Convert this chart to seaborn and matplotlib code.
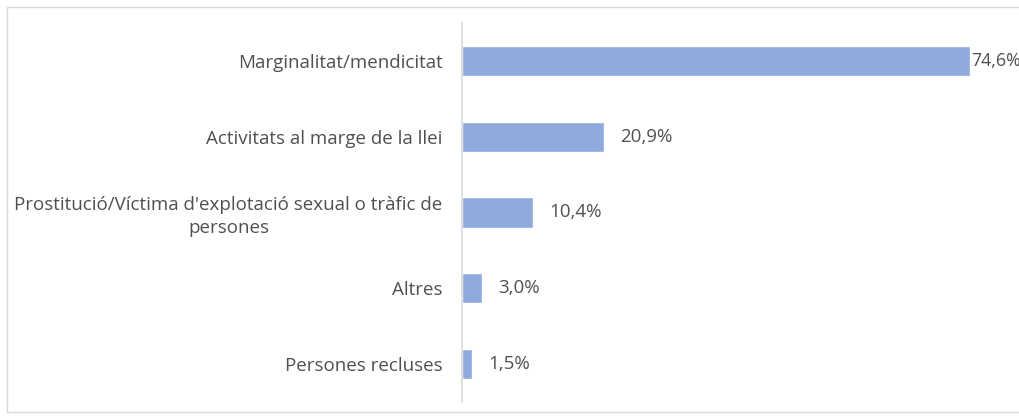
import numpy as np
import pandas as pd
import matplotlib
matplotlib.use("Agg")
import matplotlib.pyplot as plt
import seaborn as sns
from matplotlib.patches import Rectangle

# ─── DATA ───────────────────────────────────────────────
categories = [
    "Marginalitat/mendicitat",
    "Activitats al marge de la llei",
    "Prostitució/Víctima d'explotació sexual o tràfic de\npersones",
    "Altres",
    "Persones recluses",
]
values = [74.6, 20.9, 10.4, 3.0, 1.5]

df = pd.DataFrame({"categoria": categories, "pct": values})

sns.set_theme(style="white")
plt.rcParams["font.family"] = ["Open Sans", "DejaVu Sans"]

TXT = "#505050"
FS = 13.5

fig = plt.figure(figsize=(10.2, 4.16), dpi=100)
ax = fig.add_axes([462 / 1020, 1 - 402 / 416, (1007 - 462) / 1020, (402 - 23) / 416])

sns.barplot(data=df, x="pct", y="categoria", orient="h", color="#8faadc",
            width=0.4, saturation=1, ax=ax)

ax.set_xlim(0, 80)
ax.set_ylim(4.5, -0.5)
ax.set_xlabel("")
ax.set_ylabel("")
ax.set_xticks([])
ax.set_yticks(range(len(categories)))
ax.set_yticklabels(categories, multialignment="center", fontsize=FS, color=TXT,
                   linespacing=1.3)
ax.tick_params(axis="y", length=0, pad=14)

for s in ["top", "right", "bottom"]:
    ax.spines[s].set_visible(False)
ax.spines["left"].set_color("#d9d9d9")
ax.spines["left"].set_linewidth(1.2)

# value labels (first one squeezed against the bar like in the original)
for i, v in enumerate(values):
    pad = 1 if i == 0 else 16
    fs = 12.8 if i == 0 else FS
    ax.annotate(f"{v:.1f}%".replace(".", ","), xy=(v, i), xytext=(pad, 0),
                textcoords="offset pixels", va="center", ha="left",
                fontsize=fs, color=TXT, annotation_clip=False)

# outer frame
fig.patches.append(Rectangle((7 / 1020, 4 / 416), 1.2, 1 - 11 / 416,
                             transform=fig.transFigure, fill=False,
                             edgecolor="#d9d9d9", linewidth=1.0, clip_on=False))

fig.savefig("out.png", dpi=100)
